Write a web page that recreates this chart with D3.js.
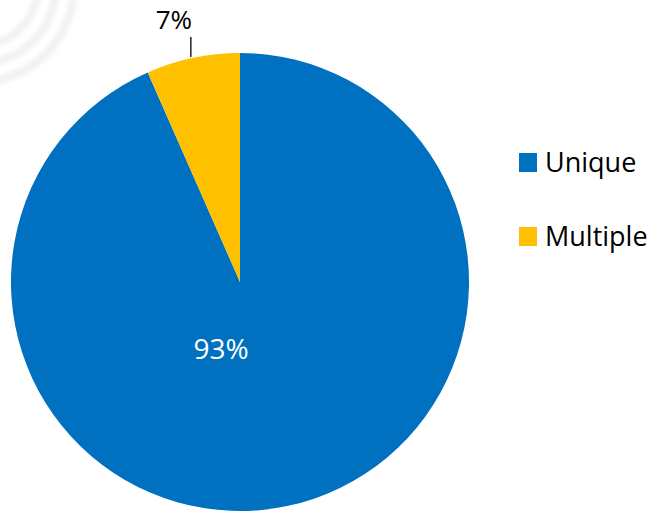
<!DOCTYPE html>
<html>
<head>
    <meta charset="utf-8">
    <title>Unique vs Multiple</title>
    <script src="https://cdn.jsdelivr.net/npm/d3@7/dist/d3.min.js"></script>
    <style>
        body { margin: 0; background: #fff; }
    </style>
</head>
<body>
<script>
    var w = 657;
    var h = 512;

    // data
    var categories = ["Unique", "Multiple"];
    var shares = [93.4, 6.6];
    var colors = ["#0070C0", "#FFC000"];

    var cx = 240, cy = 282, r = 229;

    var svg = d3.select("body").append("svg")
        .attr("width", w)
        .attr("height", h);

    // soft blur for the faint watermark in the corner
    svg.append("defs").append("filter")
        .attr("id", "soft")
        .append("feGaussianBlur")
        .attr("stdDeviation", 2);

    var rings = [60, 78, 96];
    svg.selectAll("circle.wm")
        .data(rings)
        .enter()
        .append("circle")
        .attr("class", "wm")
        .attr("cx", -22)
        .attr("cy", -14)
        .attr("r", function(d) { return d; })
        .attr("fill", "none")
        .attr("stroke", "#f1f1f1")
        .attr("stroke-width", 8)
        .attr("filter", "url(#soft)");

    var pie = d3.pie().sort(null).value(function(d) { return d; });
    var arc = d3.arc().innerRadius(0).outerRadius(r);
    var arcs = pie(shares);

    var g = svg.append("g").attr("transform", "translate(" + cx + "," + cy + ")");

    g.selectAll("path")
        .data(arcs)
        .enter()
        .append("path")
        .attr("d", arc)
        .attr("fill", function(d, i) { return colors[i]; });

    // big slice label inside
    var inner = d3.arc().innerRadius(r * 0.3).outerRadius(r * 0.3);
    var c0 = inner.centroid(arcs[0]);
    g.append("text")
        .attr("x", c0[0] - 33)
        .attr("y", c0[1] + 10)
        .attr("text-anchor", "middle")
        .attr("font-family", "Open Sans")
        .attr("font-size", 28)
        .attr("fill", "#fff")
        .text(Math.round(shares[0]) + "%");

    // small slice label outside with leader line
    var mid = (arcs[1].startAngle + arcs[1].endAngle) / 2;
    var lx = Math.sin(mid) * r - 2;
    g.append("line")
        .attr("x1", lx).attr("x2", lx)
        .attr("y1", -r + 4).attr("y2", -r - 16)
        .attr("stroke", "#000")
        .attr("stroke-width", 1.3);
    g.append("text")
        .attr("x", lx - 17)
        .attr("y", -r - 24)
        .attr("text-anchor", "middle")
        .attr("font-family", "Open Sans")
        .attr("font-size", 26)
        .attr("fill", "#000")
        .text(Math.round(shares[1]) + "%");

    // legend
    var legend = svg.selectAll("g.leg")
        .data(categories)
        .enter()
        .append("g")
        .attr("class", "leg")
        .attr("transform", function(d, i) { return "translate(519," + (153 + i * 74) + ")"; });
    legend.append("rect")
        .attr("width", 18)
        .attr("height", 19)
        .attr("fill", function(d, i) { return colors[i]; });
    legend.append("text")
        .attr("x", 26)
        .attr("y", 19)
        .attr("font-family", "Open Sans")
        .attr("font-size", 27)
        .attr("fill", "#000")
        .text(function(d) { return d; });
</script>
</body>
</html>
